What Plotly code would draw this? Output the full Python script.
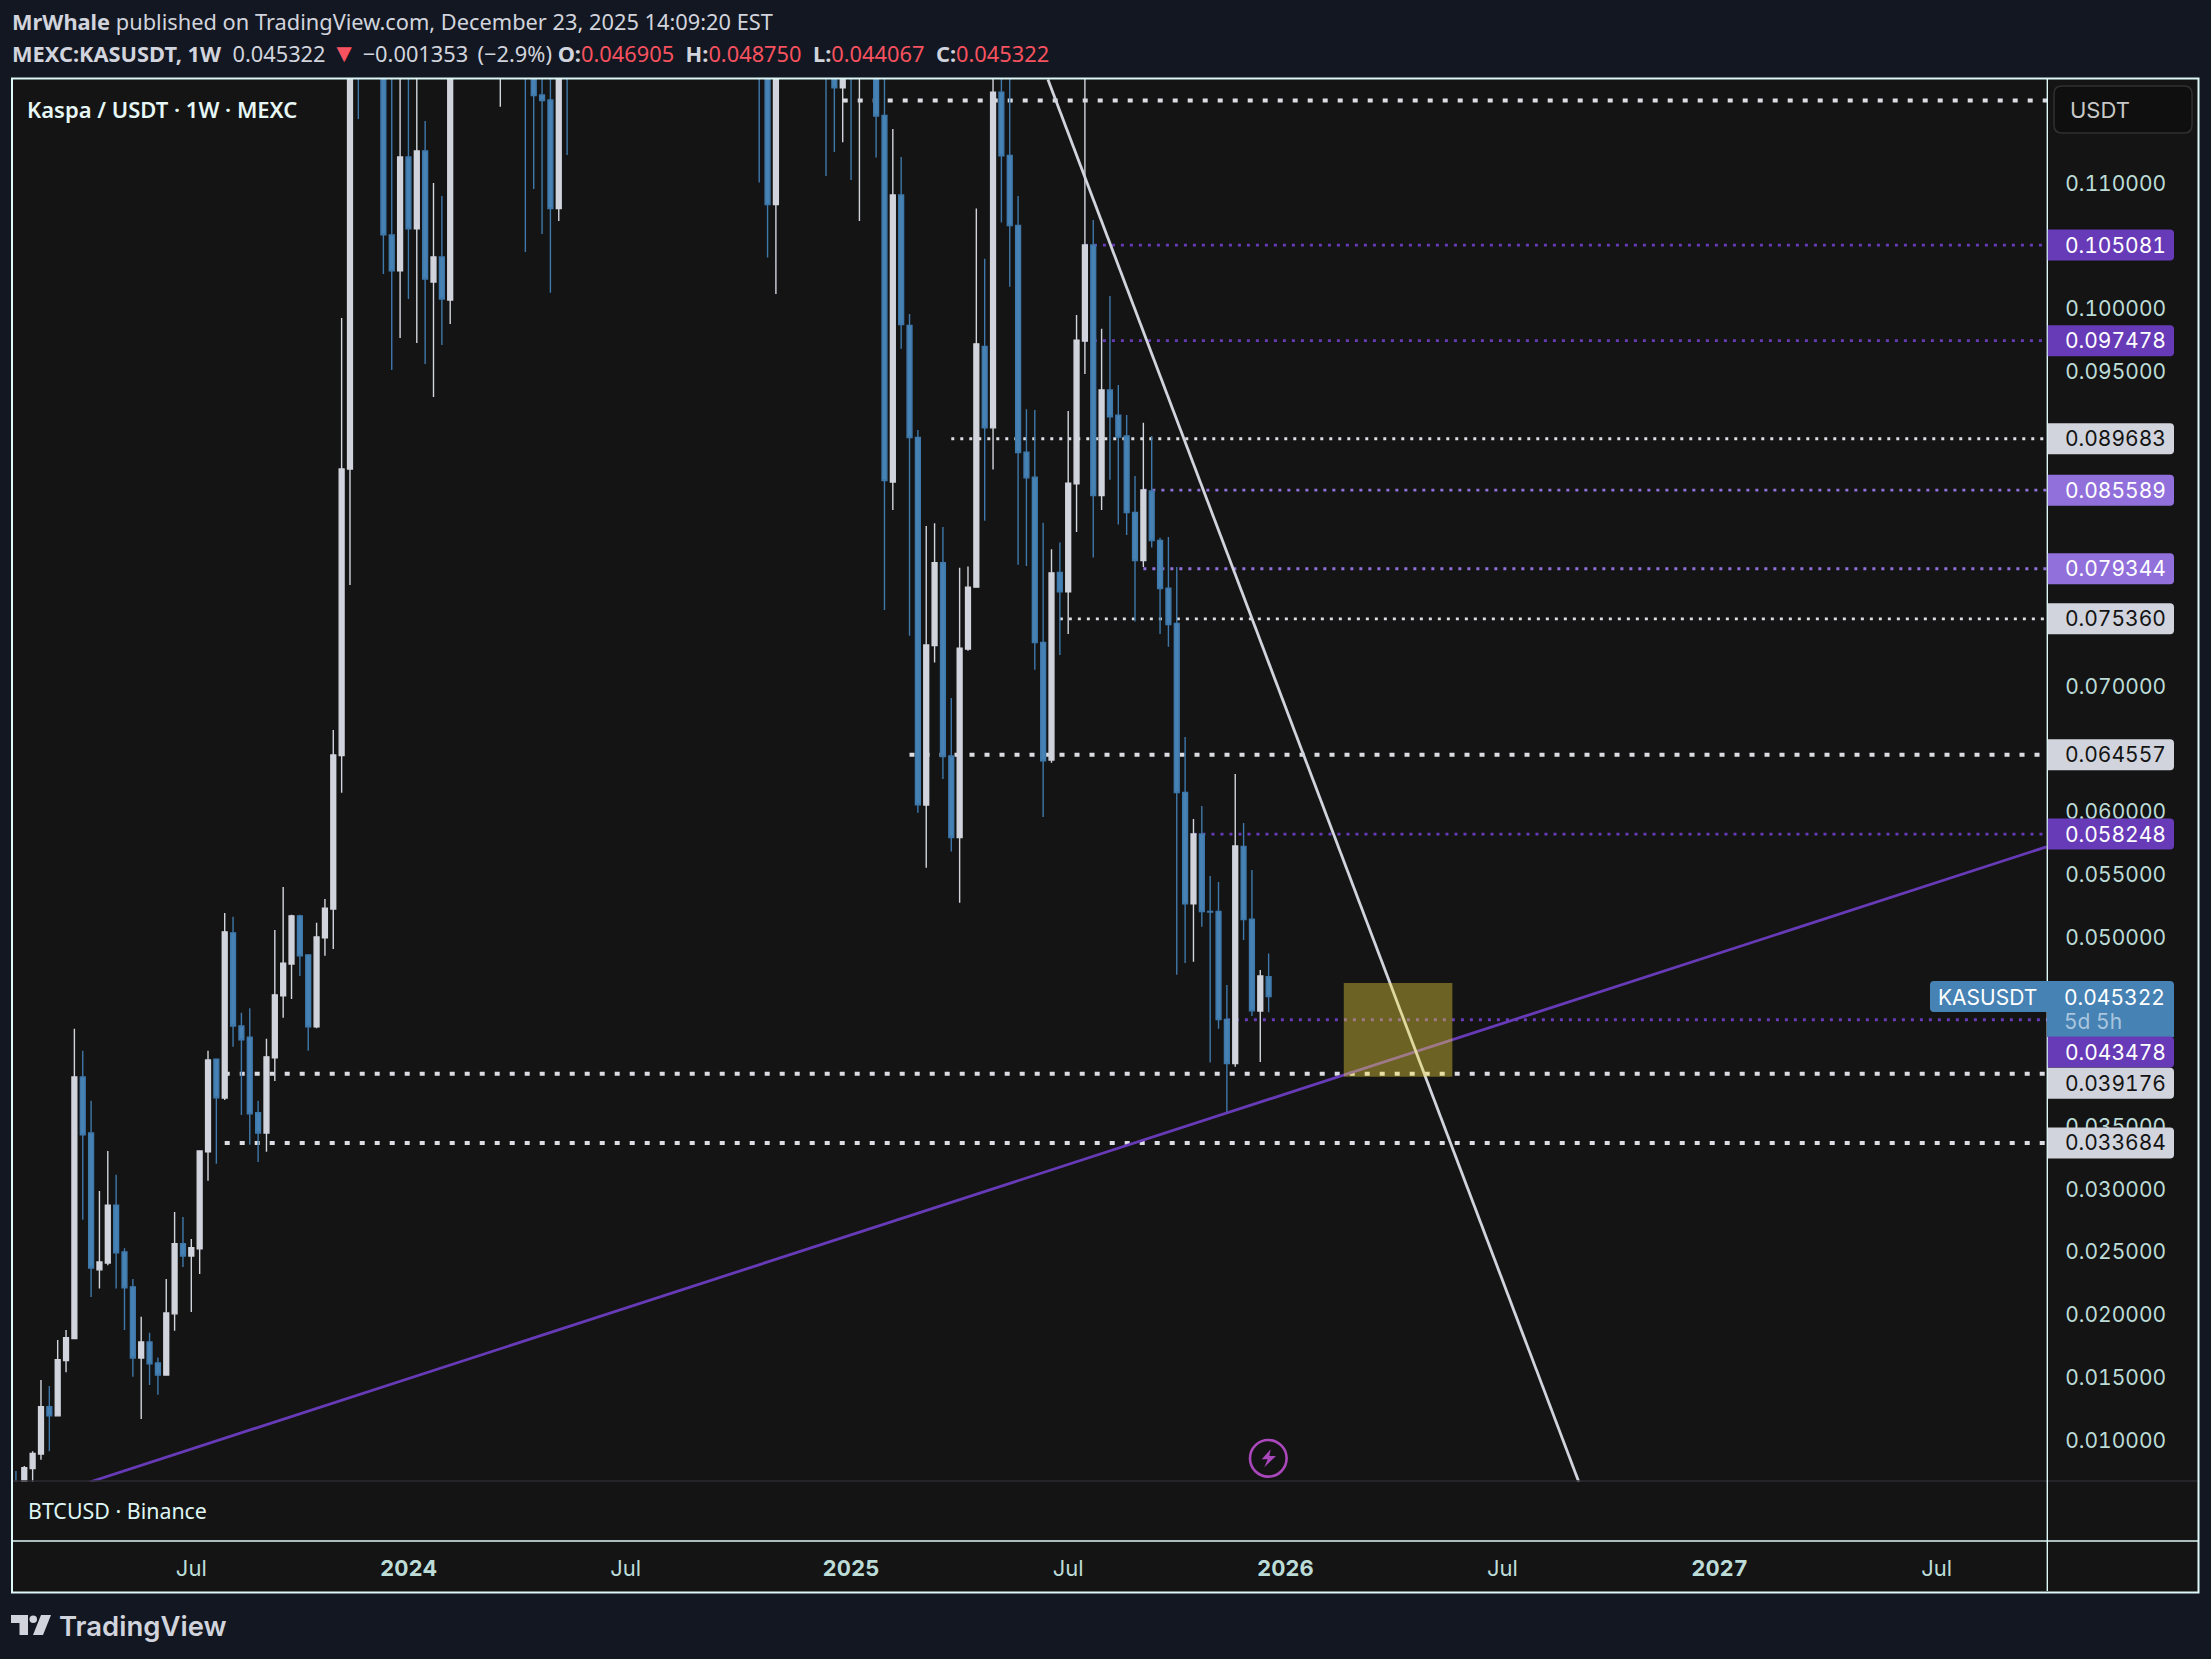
import pandas as pd
import plotly.graph_objects as go

# ---------- data ----------
first_week = "2023-02-06"
week_no = [0,1,2,3,4,5,6,7,8,9,10,11,12,13,14,15,16,17,18,19,20,21,22,23,24,25,26,27,28,29,30,31,32,33,34,35,36,37,38,39,40,41,
           44,45,46,47,48,49,50,51,52,58,61,62,63,64,65,66,89,90,91,97,98,99,100,101,103,104,105,106,107,108,109,110,111,112,113,114,115,116,117,118,119,120,
           121,122,123,124,125,126,127,128,129,130,131,132,133,134,135,136,137,138,139,140,141,142,143,144,145,146,147,148,149,150]
opens = [.0066,.0066,.00778,.00895,.01271,.01198,.01637,.01812,.03893,.03447,.02359,.02414,.02874,.02502,.02224,.01658,.01786,.01618,.01523,.02009,.02568,.02469,.02527,.03298,.04035,.03725,.05039,.04298,.04210,.03608,.03447,.04046,.04539,.04791,.05174,.04864,.04291,.04999,.05229,.06448,.08728,.1250,
         .1250,.10589,.10303,.11209,.10637,.11257,.10215,.10414,.10072,.125,.130,.125,.11702,.11662,.10798,.130,.135,.125,.10830,.13,.125,.11759,.13,.125,.125,.11540,.08624,.10907,.09870,.08978,.06056,.07323,.07982,.06445,.05796,.07296,.07788,.09703,.09055,.11725,.11222,.10665,
         .08862,.08663,.07349,.06414,.07905,.07752,.08609,.09745,.10509,.08516,.09356,.09155,.08990,.08382,.07999,.08553,.08160,.07780,.07500,.06156,.05271,.05825,.05210,.05210,.04351,.03999,.05727,.05147,.04418,.046905]
highs = [.0076,.0080,.00917,.01483,.01436,.01801,.01881,.04276,.04101,.03703,.02987,.03305,.03115,.02531,.02286,.01987,.01859,.01662,.02286,.02819,.02779,.02604,.03305,.04101,.04035,.05196,.05167,.04404,.04440,.03703,.04196,.05061,.05404,.05182,.05182,.04864,.05120,.05309,.06653,.09929,.1270,.1300,
         .128,.122,.125,.124,.125,.11495,.11002,.10899,.1300,.135,.135,.130,.122,.122,.130,.135,.14,.13,.135,.135,.13,.13,.135,.135,.13,.125,.11432,.11208,.09961,.09038,.08274,.08297,.08266,.06907,.07943,.07953,.10800,.10399,.125,.125,.122,.10898,
         .09203,.09197,.08300,.08090,.08144,.09189,.09953,.125,.10708,.09842,.10103,.09396,.09157,.08672,.09095,.08990,.08180,.08186,.07948,.06597,.05944,.06048,.05491,.05443,.04624,.06302,.05913,.05539,.04744,.04875]
lows = [.0060,.0064,.0066,.00848,.00917,.01198,.01545,.01812,.02757,.02144,.02210,.02396,.02210,.01881,.01509,.01173,.01443,.01366,.01516,.01874,.02381,.02023,.02327,.03068,.03203,.03710,.04134,.03590,.03353,.03217,.03298,.03860,.04364,.04513,.04696,.04101,.04280,.04857,.04911,.06154,.07806,.11511,
        .10279,.09515,.09770,.10080,.09730,.09563,.09301,.09714,.09881,.11609,.10454,.10955,.10597,.10130,.10700,.11225,.11006,.10410,.10120,.11057,.11248,.11327,.11026,.10700,.11205,.07607,.08402,.09683,.07402,.05995,.05557,.07188,.06262,.05685,.05279,.07283,.07788,.08317,.08723,.10688,.10177,.07967,
        .07956,.07132,.05960,.06392,.07249,.07416,.08226,.09484,.08024,.08402,.08643,.08286,.08203,.07514,.07948,.08104,.07416,.07315,.04706,.04799,.04810,.05088,.04007,.04277,.03609,.03975,.04982,.04378,.04012,.044067]
closes = [.0062,.00786,.00899,.01271,.01198,.01644,.01819,.03893,.03433,.02374,.02421,.02874,.02494,.02217,.01658,.01786,.01611,.01523,.02016,.02568,.02469,.02535,.03305,.04028,.03728,.05047,.04298,.04189,.03601,.03447,.04053,.04546,.04798,.05174,.04857,.04291,.05006,.05236,.06454,.08728,.1255,.1215,
          .10591,.10303,.11209,.10637,.11257,.10239,.10414,.10080,.1270,.128,.125,.11697,.11657,.10798,.125,.125,.125,.10830,.125,.125,.11759,.125,.125,.13,.11535,.08635,.10907,.09876,.08978,.06058,.07328,.07982,.06440,.05796,.07302,.07788,.09723,.09055,.11725,.11219,.10663,.08859,
          .08658,.07347,.06408,.07902,.07752,.08615,.09751,.10509,.08516,.09356,.09143,.08981,.08382,.07999,.08561,.08158,.07777,.07490,.06154,.05271,.05825,.05208,.05205,.04349,.03999,.05730,.05144,.04420,.04696,.045322]

price_ticks = [.11,.10,.095,.07,.06,.055,.05,.035,.03,.025,.02,.015,.01]
time_ticks = ["2023-07-03","2024-01-01","2024-07-01","2025-01-06","2025-07-07","2026-01-05","2026-07-06","2027-01-04","2027-07-05"]
time_labels = ["Jul","<b>2024</b>","Jul","<b>2025</b>","Jul","<b>2026</b>","Jul","<b>2027</b>","Jul"]

heavy_levels = [.11659,.064557,.039176,.033684]
heavy_starts = ["2024-12-30","2025-02-24","2023-07-31","2023-07-31"]
light_levels = [.089683,.075360]
light_starts = ["2025-03-31","2025-06-30"]
purple_levels = [.105081,.097478,.058248,.043478]
purple_starts = ["2025-07-21","2025-07-21","2025-10-20","2025-11-17"]
lilac_levels = [.085589,.079344]
lilac_starts = ["2025-09-08","2025-09-08"]

support_x = ["2023-04-09","2027-10-05"]
support_y = [.00672,.05723]
resist_x = ["2025-06-20","2026-09-08"]
resist_y = [.11825,.00672]
zone_x = ["2026-02-23","2026-05-25"]
zone_y = [.03895,.04641]

x_range = ["2023-02-02 17:00","2027-10-05 10:00"]
y_range = [.00672,.11837]

# ---------- styling ----------
W, H = 2211, 1659
PL, PR, PT, PB = 12, 2047, 78, 1482
OUTER, PANE = "#131722", "#141414"
WHITE, BLUE, PURPLE, LILAC = "#d1d4dc", "#4682b4", "#673ab7", "#9170dc"
EDGE = "#def7f7"
TICK = "#bcdcd8"
UI = "Inter"
PRICE_SIZE = 21

def X(px): return (px - PL) / (PR - PL)
def Y(py): return (PB - py) / (PB - PT)

weeks = pd.Timestamp(first_week) + pd.to_timedelta([n * 7 for n in week_no], unit="D")

fig = go.Figure()
fig.add_trace(go.Candlestick(
    x=weeks, open=opens, high=highs, low=lows, close=closes, hoverinfo="skip", showlegend=False,
    whiskerwidth=0,
    increasing=dict(fillcolor=WHITE, line=dict(color=WHITE, width=1.4)),
    decreasing=dict(fillcolor=BLUE, line=dict(color="#3f78aa", width=1.4)),
))
fig.add_trace(go.Scatter(x=support_x, y=support_y, mode="lines", line=dict(color=PURPLE, width=2.8), hoverinfo="skip", showlegend=False))
fig.add_trace(go.Scatter(x=resist_x, y=resist_y, mode="lines", line=dict(color=WHITE, width=2.8), hoverinfo="skip", showlegend=False))

shapes, notes = [], []

def box(x0, y0, x1, y1, fill=None, line=None, lw=1, layer="above"):
    shapes.append(dict(type="rect", xref="paper", yref="paper", x0=X(x0), x1=X(x1), y0=Y(y1), y1=Y(y0),
                       fillcolor=fill or "rgba(0,0,0,0)", line=dict(color=line or "rgba(0,0,0,0)", width=lw if line else 0), layer=layer))

def rule(x0, y0, x1, y1, color, lw, layer="above"):
    shapes.append(dict(type="line", xref="paper", yref="paper", x0=X(x0), x1=X(x1), y0=Y(y0), y1=Y(y1),
                       line=dict(color=color, width=lw), layer=layer))

def text(px, py, s, size, color, anchor="left", weight=None, family=UI):
    f = dict(size=size, color=color, family=family)
    if weight: f["weight"] = weight
    notes.append(dict(xref="paper", yref="paper", x=X(px), y=Y(py), text=s, showarrow=False, xanchor=anchor,
                      yanchor="middle", font=f, borderpad=0, borderwidth=0))

# panels
box(PL, PT, 2198, 1592, fill=PANE, layer="below")

# price levels (under the candles)
def levels(vals, starts, color, width, dash):
    for v, s in zip(vals, starts):
        shapes.append(dict(type="line", xref="x", yref="y", x0=s, x1=x_range[1], y0=v, y1=v,
                           line=dict(color=color, width=width, dash=dash), layer="below"))
levels(heavy_levels, heavy_starts, "#dcdde3", 4, "5px,10px")
levels(light_levels, light_starts, "#dcdde3", 2.8, "3px,6px")
levels(purple_levels, purple_starts, PURPLE, 2.8, "3px,6px")
levels(lilac_levels, lilac_starts, LILAC, 2.8, "3px,6px")

# zone
shapes.append(dict(type="rect", xref="x", yref="y", x0=zone_x[0], x1=zone_x[1], y0=zone_y[0], y1=zone_y[1],
                   fillcolor="rgba(250,225,60,0.38)", line=dict(width=0), layer="above"))

# frame lines
rule(PL, 1481, 2197, 1481, "#2b2b30", 1.3)
rule(PL, 1541, 2198, 1541, EDGE, 1.4)
rule(2047.3, PT, 2047.3, 1591, EDGE, 1.4)
box(12, 78.5, 2198.5, 1592.5, line=EDGE, lw=2)

# price labels
def tag(value, fill, ink, shift=0):
    x0, x1, r = X(2047.8), X(2174), 4
    rx = r / (PR - PL)
    h = 15.5
    top, bot = shift - h, shift + h
    shapes.append(dict(type="path", xref="paper", yref="y", ysizemode="pixel", yanchor=value,
                       path=f"M {x0},{-bot} L {x1-rx},{-bot} Q {x1},{-bot} {x1},{-bot+r} L {x1},{-top-r} Q {x1},{-top} {x1-rx},{-top} L {x0},{-top} Z",
                       fillcolor=fill, line=dict(width=0), layer="above"))
    notes.append(dict(xref="paper", yref="y", x=X(2063.5), y=value, yshift=-shift, text=f"{value:.6f}", showarrow=False,
                      xanchor="left", yanchor="middle", font=dict(size=PRICE_SIZE, color=ink, family=UI), borderpad=0))

# last price tag with countdown
shapes.append(dict(type="path", xref="paper", yref="paper",
    path=f"M {X(1934)},{Y(981)} L {X(2170)},{Y(981)} Q {X(2174)},{Y(981)} {X(2174)},{Y(985)} L {X(2174)},{Y(1037)} L {X(2047)},{Y(1037)} L {X(2047)},{Y(1012)} L {X(1934)},{Y(1012)} Q {X(1930)},{Y(1012)} {X(1930)},{Y(1008)} L {X(1930)},{Y(985)} Q {X(1930)},{Y(981)} {X(1934)},{Y(981)} Z",
    fillcolor=BLUE, line=dict(width=0), layer="above"))
text(1938, 997, "KASUSDT", 21, "#ffffff")
text(2063.5, 997, "0.045322", PRICE_SIZE, "#ffffff")
text(2063.5, 1021.5, "5d 5h", PRICE_SIZE, "#a9c6de")

for v in purple_levels:
    if v == .043478:
        tag(v, PURPLE, "#ffffff", shift=32.3)
    else:
        tag(v, PURPLE, "#ffffff")
for v in lilac_levels:
    tag(v, LILAC, "#ffffff")
for v in heavy_levels[1:] + light_levels:
    tag(v, WHITE, "#131313", shift=9.3 if v == .039176 else 0)

# currency button
shapes.append(dict(type="path", xref="paper", yref="paper",
    path=f"M {X(2062)},{Y(86)} L {X(2184)},{Y(86)} Q {X(2192)},{Y(86)} {X(2192)},{Y(94)} L {X(2192)},{Y(125)} Q {X(2192)},{Y(133)} {X(2184)},{Y(133)} L {X(2062)},{Y(133)} Q {X(2054)},{Y(133)} {X(2054)},{Y(125)} L {X(2054)},{Y(94)} Q {X(2054)},{Y(86)} {X(2062)},{Y(86)} Z",
    fillcolor="#0f0f0f", line=dict(color="#303030", width=1.5), layer="above"))
text(2070, 110, "USDT", 22, "#c8c8c8")

# lightning mark
shapes.append(dict(type="circle", xref="paper", yref="paper", x0=X(1250), x1=X(1286.6), y0=Y(1476.6), y1=Y(1440),
                   fillcolor="rgba(0,0,0,0)", line=dict(color="#ab47bc", width=2.6), layer="above"))
bolt = [(1270.7,1449.3),(1261.7,1459.3),(1267.7,1459.3),(1264.3,1467.3),(1276,1456),(1269.3,1456)]
shapes.append(dict(type="path", xref="paper", yref="paper",
                   path="M " + " L ".join(f"{X(a)},{Y(b)}" for a, b in bolt) + " Z",
                   fillcolor="#ab47bc", line=dict(width=0), layer="above"))

# TradingView mark
logo = "#d1d4dc"
shapes.append(dict(type="path", xref="paper", yref="paper",
    path=f"M {X(11)},{Y(1615)} L {X(28)},{Y(1615)} L {X(28)},{Y(1635)} L {X(19.5)},{Y(1635)} L {X(19.5)},{Y(1623)} L {X(11)},{Y(1623)} Z",
    fillcolor=logo, line=dict(width=0), layer="above"))
shapes.append(dict(type="circle", xref="paper", yref="paper", x0=X(29.5), x1=X(37), y0=Y(1623), y1=Y(1615.5),
                   fillcolor=logo, line=dict(width=0), layer="above"))
shapes.append(dict(type="path", xref="paper", yref="paper",
    path=f"M {X(41)},{Y(1615)} L {X(51)},{Y(1615)} L {X(43)},{Y(1635)} L {X(33)},{Y(1635)} Z",
    fillcolor=logo, line=dict(width=0), layer="above"))
text(59, 1625.5, "TradingView", 27.5, logo, weight=600, family="Inter")

# header text
HF = "Noto Sans"
text(12, 22, "<b>MrWhale</b> published on TradingView.com, December 23, 2025 14:09:20 EST", 21.8, WHITE, family=HF)
red = "#f7525f"
def r(s): return f'<span style="color:{red}">{s}</span>'
gap = " \u2009\u200a"
text(12, 52, "<b>MEXC:KASUSDT, 1W</b>  0.045322 " + f'<span style="color:{red};font-size:26px">▼</span>' + " −0.001353 \u2009(−2.9%) <b>O:</b>" + r("0.046905")
     + gap + "<b>H:</b>" + r("0.048750") + gap + "<b>L:</b>" + r("0.044067") + gap + "<b>C:</b>" + r("0.045322"), 21.8, WHITE, family=HF)
text(27, 109, "Kaspa / USDT · 1W · MEXC", 22, "#e6f7f5", weight=600, family=HF)
text(27.5, 1510.5, "BTCUSD · Binance", 21.4, "#def5f2", family=HF)

fig.update_layout(
    width=W, height=H, autosize=False,
    margin=dict(l=PL, r=W - PR, t=PT, b=H - PB, pad=0),
    paper_bgcolor=OUTER, plot_bgcolor=PANE,
    boxgap=0.17,
    showlegend=False, hovermode=False,
    shapes=shapes, annotations=notes,
    xaxis=dict(type="date", range=x_range, rangeslider=dict(visible=False), showgrid=False, zeroline=False, showline=False,
               tickmode="array", tickvals=time_ticks, ticktext=time_labels, ticks="outside", ticklen=67,
               tickcolor="rgba(0,0,0,0)", tickfont=dict(family=UI, size=22, color=TICK)),
    yaxis=dict(side="right", range=y_range, showgrid=False, zeroline=False, showline=False,
               tickmode="array", tickvals=price_ticks, ticktext=[f"{v:.6f}" for v in price_ticks],
               ticks="outside", ticklen=13, tickcolor="rgba(0,0,0,0)", tickfont=dict(family=UI, size=PRICE_SIZE, color=TICK)),
)

fig.write_html("out.html", config=dict(displayModeBar=False))

# page style goes in before the chart draws, so text is measured with tabular figures
with open("out.html", encoding="utf-8") as fh:
    page = fh.read()
style = ("<style>html,body{margin:0;padding:0;overflow:hidden;background:#131722}"
         "svg text{font-feature-settings:'tnum' 1;font-variant-numeric:tabular-nums}</style>")
page = page.replace("<head>", "<head>" + style, 1)
with open("out.html", "w", encoding="utf-8") as fh:
    fh.write(page)
